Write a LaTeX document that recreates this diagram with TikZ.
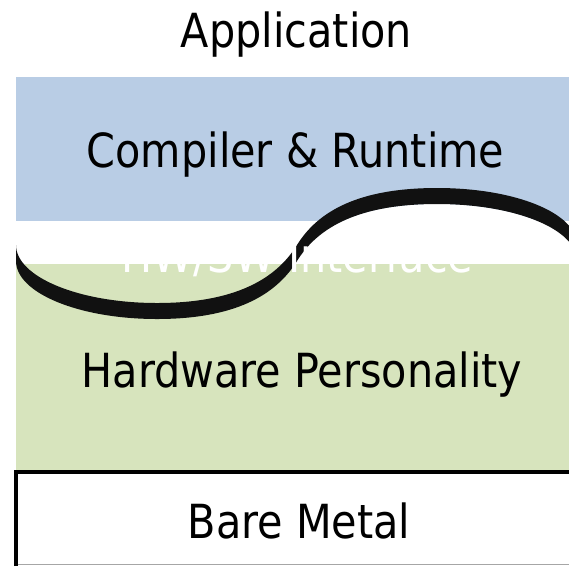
\documentclass[tikz,border=0pt]{standalone}
\usepackage{fontspec}
\setmainfont{DejaVu Sans}[FakeStretch=0.88]
\definecolor{swblue}{RGB}{185,205,229}
\definecolor{hwgreen}{RGB}{215,228,189}
\definecolor{ribbon}{RGB}{17,17,17}
\begin{document}
\begin{tikzpicture}[x=1pt,y=-1pt,
  layer/.style={font=\fontsize{47}{56}\selectfont, inner sep=0pt, anchor=base},
  wlayer/.style={layer, text=white}]
\useasboundingbox (0,0) rectangle (569,566);
\clip (0,0) rectangle (569,566);

% software layer, hardware layer and the interface band between them
\fill[swblue]  (16,77)  rectangle (569,221);
\fill[hwgreen] (16,264) rectangle (569,470);
\fill[white]   (16,221) rectangle (569,264);

% right lobe of the wavy interface bulges up into the software layer
\fill[white] (297,261) .. controls (318,227) and (359,204) .. (437,204)
  .. controls (515,204) and (577,229) .. (577,261) -- cycle;

% the wavy interface sheet, drawn with depth
\fill[ribbon] (16,245) .. controls (16,277) and (79,303) .. (157,303)
  .. controls (235,303) and (276,279) .. (297,245)
  .. controls (318,211) and (359,188) .. (437,188)
  .. controls (515,188) and (577,213) .. (577,245)
  -- (577,261)
  .. controls (577,229) and (515,204) .. (437,204)
  .. controls (359,204) and (318,227) .. (297,261)
  .. controls (276,295) and (235,319) .. (157,319)
  .. controls (79,319) and (16,293) .. (16,261) -- cycle;

% bare metal box
\draw[gray!70, line width=1.5pt] (16,564.5) -- (569,564.5);
\draw[black, line width=4pt] (16,566) -- (16,472) -- (569,472);

% labels
\node[layer]  (app)  at (296.5,47)  {Application};
\node[layer]  (comp) at (295.5,167) {Compiler \& Runtime};
\node[wlayer] (ifc)  at (297.5,272) {HW/SW Interface};
\node[layer]  (hw)   at (302,387)   {Hardware Personality};
\node[layer]  (bare) at (299,538)   {Bare Metal};
\end{tikzpicture}
\end{document}
